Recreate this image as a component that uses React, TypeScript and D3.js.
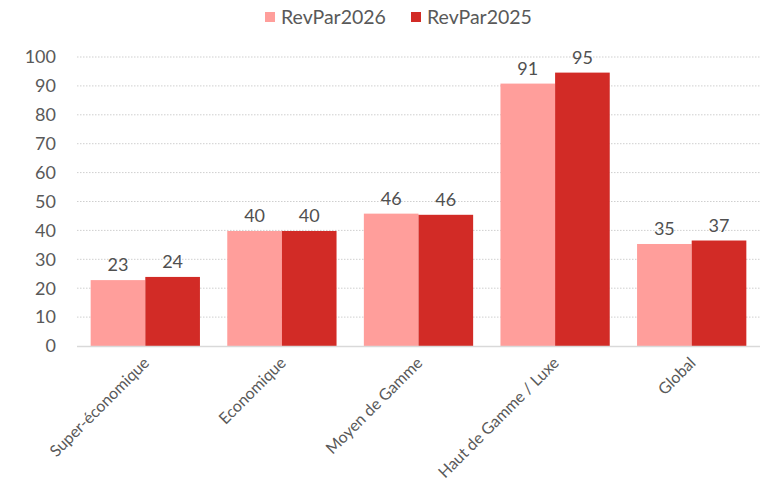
import React from "react";
import * as d3 from "d3";

const categories = ["Super-économique", "Economique", "Moyen de Gamme", "Haut de Gamme / Luxe", "Global"];
const series = ["RevPar2026", "RevPar2025"];
const revpar2026 = [22.8, 39.8, 45.8, 90.8, 35.3];
const revpar2025 = [23.9, 39.8, 45.4, 94.6, 36.5];
const labels2026 = ["23", "40", "46", "91", "35"];
const labels2025 = ["24", "40", "46", "95", "37"];
const yTicks = [0, 10, 20, 30, 40, 50, 60, 70, 80, 90, 100];
const colors = ["#FF9E9B", "#D22B26"];

export default function App() {
  const W = 769, H = 482;
  const left = 77, right = 760, top = 57, bottom = 346;
  const x = d3.scaleBand<string>().domain(categories).range([left, right]).paddingInner(0.2).paddingOuter(0.1);
  const x1 = d3.scaleBand<string>().domain(series).range([0, x.bandwidth()]);
  const y = d3.scaleLinear().domain([0, 100]).range([bottom, top]);
  const font = "Lato, 'Open Sans', sans-serif";
  const vals = [revpar2026, revpar2025];
  const labs = [labels2026, labels2025];
  return (
    <svg width={W} height={H} style={{ position: "absolute", left: 0, top: 0, background: "#fff" }} fontFamily={font}>
      {yTicks.map((t) => (
        <g key={t}>
          {t > 0 && (
            <line x1={left} x2={right} y1={y(t)} y2={y(t)} stroke="#cfcfcf" strokeWidth={1} strokeDasharray="1.5,1.5" />
          )}
          <text x={56} y={y(t)} dy="0.35em" textAnchor="end" fontSize={18} fill="#595959">{t}</text>
        </g>
      ))}
      {categories.map((c, i) => (
        <g key={c}>
          {series.map((s, k) => {
            const v = vals[k][i];
            const bx = (x(c) as number) + (x1(s) as number);
            return (
              <g key={s}>
                <rect x={bx} y={y(v)} width={x1.bandwidth()} height={bottom - y(v)} fill={colors[k]} />
                <text x={bx + x1.bandwidth() / 2} y={y(v) - 9} textAnchor="middle" fontSize={18} fill="#505050">{labs[k][i]}</text>
              </g>
            );
          })}
          <text
            transform={`translate(${(x(c) as number) + x.bandwidth() / 2 + 1},${bottom + 14}) rotate(-45)`}
            textAnchor="end"
            dy="0.35em"
            fontSize={16}
            fill="#595959"
          >{c}</text>
        </g>
      ))}
      <line x1={left} x2={right} y1={bottom + 0.5} y2={bottom + 0.5} stroke="#d9d9d9" strokeWidth={1.5} />
      {series.map((s, k) => {
        const lx = [265, 411][k];
        return (
          <g key={s}>
            <rect x={lx} y={12} width={10} height={10} fill={colors[k]} />
            <text x={lx + 16} y={17} dy="0.35em" fontSize={19.5} fill="#595959">{s}</text>
          </g>
        );
      })}
    </svg>
  );
}
